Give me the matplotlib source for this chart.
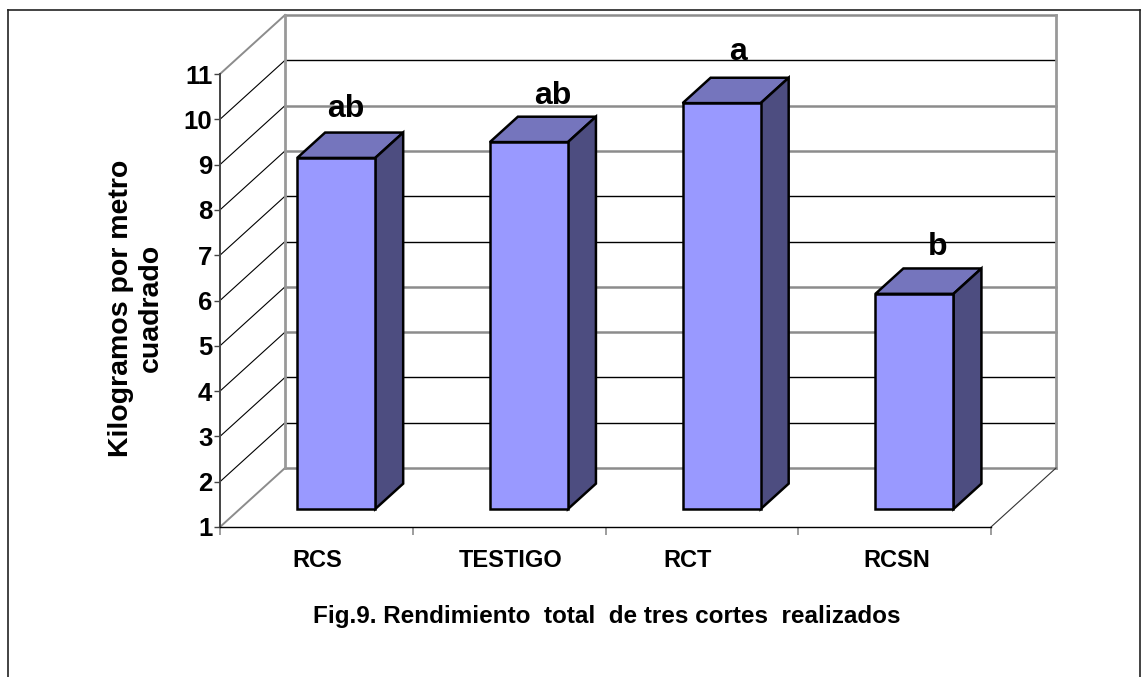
import matplotlib
matplotlib.use('Agg')
import matplotlib.pyplot as plt
from matplotlib.lines import Line2D

plt.rcParams['font.family'] = ['Liberation Sans', 'DejaVu Sans']
plt.rcParams['font.weight'] = 'bold'

# Datos
categorias = ['RCS', 'TESTIGO', 'RCT', 'RCSN']
rendimiento = [8.75, 9.10, 9.96, 5.75]
letras = ['ab', 'ab', 'a', 'b']
valores_eje = list(range(1, 12))
# la rejilla se ve alterna por el reescalado de la imagen
rejilla_gris = [11, 9, 8, 5, 4, 1]

# ajustes de posicion de las letras y etiquetas, en pixeles
letra_dx = [10, 24, 16, 23]
letra_dy = [41, 38, 43, 39]
etiqueta_x = [0.503, 1.51, 2.428, 3.51]

W, H = 1141, 677
fig = plt.figure(figsize=(W / 100, H / 100), dpi=100)
ax = fig.add_axes([220 / W, 1 - 527 / H, 771 / W, 453 / H])
ax.set_xlim(0, 4)
ax.set_ylim(1, 11)
ax.patch.set_visible(False)

# profundidad del falso 3D, en unidades de los ejes
px_x = 771 / 4
px_y = 453 / 10
dx = 65 / px_x
dy = 59 / px_y
f0, f1 = 0.305, 0.735
ancho = 0.405

gris = '#8c8c8c'

# paredes
for v in valores_eje:
    c = gris if v in rejilla_gris else 'black'
    lw = 1.8 if v in rejilla_gris else 1.0
    ax.plot([dx, 4 + dx], [v + dy, v + dy], color=c, lw=lw, clip_on=False, zorder=1)
    borde = v in (1, 11)
    ax.plot([0, dx], [v, v + dy], color=gris if borde else 'black', lw=1.4 if borde else 0.8,
            clip_on=False, zorder=1)
ax.plot([dx, dx], [1 + dy, 11 + dy], color='#999999', lw=2, clip_on=False, zorder=1.5)
ax.plot([4 + dx, 4 + dx], [1 + dy, 11 + dy], color='#999999', lw=2, clip_on=False, zorder=1.5)
ax.plot([4, 4 + dx], [1, 1 + dy], color='#333333', lw=0.8, clip_on=False, zorder=1.5)

# barras
xs = [i + 0.5 + f0 * dx for i in range(len(categorias))]
alturas = [v - 1 for v in rendimiento]
ax.bar(xs, alturas, ancho, bottom=1 + f0 * dy, color='#9999ff', edgecolor='black',
       linewidth=1.8, zorder=4, clip_on=False)
d_x = (f1 - f0) * dx
d_y = (f1 - f0) * dy
for i, (x, v, letra) in enumerate(zip(xs, rendimiento, letras)):
    izq, der = x - ancho / 2, x + ancho / 2
    base = 1 + f0 * dy
    arriba = v + f0 * dy
    ax.fill([izq, der, der + d_x, izq + d_x], [arriba, arriba, arriba + d_y, arriba + d_y],
            facecolor='#7575bd', edgecolor='black', lw=1.8, zorder=3, clip_on=False)
    ax.fill([der, der + d_x, der + d_x, der], [base, base + d_y, arriba + d_y, arriba],
            facecolor='#4d4d80', edgecolor='black', lw=1.8, zorder=3, clip_on=False)
    ax.text(x + letra_dx[i] / px_x, arriba + letra_dy[i] / px_y, letra, ha='center',
            va='baseline', fontsize=23, zorder=5, clip_on=False)

# ejes
for s in ['top', 'right']:
    ax.spines[s].set_visible(False)
ax.spines['left'].set_color('#444444')
ax.spines['left'].set_linewidth(1.4)
ax.spines['bottom'].set_color('black')
ax.spines['bottom'].set_linewidth(1.0)
ax.set_yticks(valores_eje)
ax.set_yticklabels([str(v) for v in valores_eje], fontsize=18.5)
ax.tick_params(axis='y', length=4, width=1, color='#444444', pad=1.5)
ax.set_xticks(range(5))
ax.set_xticklabels([])
ax.tick_params(axis='x', length=6, width=1.2, color=gris)
ax.set_xticks(etiqueta_x, minor=True)
ax.set_xticklabels(categorias, minor=True, fontsize=17)
ax.tick_params(axis='x', which='minor', length=0, pad=16)

fig.text(136 / W, 1 - 308 / H, 'Kilogramos por metro\ncuadrado', rotation=90,
         ha='center', va='center', fontsize=20.5, linespacing=1.2, multialignment='center')
fig.text(607 / W, 1 - 616 / H, 'Fig.9. Rendimiento  total  de tres cortes  realizados',
         ha='center', va='center', fontsize=17.5)

# marco exterior, abierto por abajo
for xx, yy in [([8, 8], [10, 677]), ([8, 1140], [10, 10]), ([1140, 1140], [10, 677])]:
    fig.add_artist(Line2D([x / W for x in xx], [1 - y / H for y in yy], color='#222222', lw=1.2))

fig.savefig('out.png', dpi=100)
